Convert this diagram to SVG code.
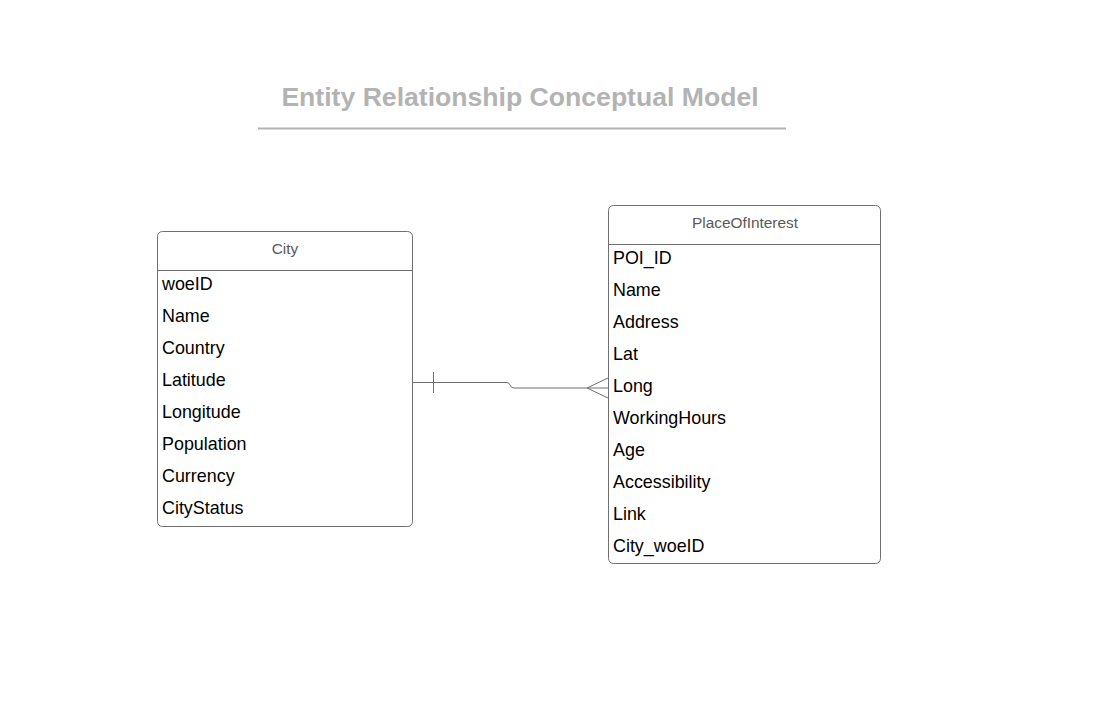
<svg xmlns="http://www.w3.org/2000/svg" width="1107" height="726" viewBox="0 0 1107 726">
<style>
.box{fill:#fff;stroke:#6f6f6f;stroke-width:1}
.sep{stroke:#6f6f6f;stroke-width:1}
.hdr{font-family:"Liberation Sans",Arial,sans-serif;font-size:15.4px;fill:#595959;text-anchor:middle}
.fld{font-family:"Liberation Sans",Arial,sans-serif;font-size:17.9px;fill:#000}
.title{font-family:"Liberation Sans",Arial,sans-serif;font-size:26.6px;font-weight:bold;fill:#b3b3b3;text-anchor:middle}
.conn{fill:none;stroke:#6f6f6f;stroke-width:1}
</style>
<rect width="1107" height="726" fill="#fff"/>
<g id="title">
<text class="title" x="520" y="106">Entity Relationship Conceptual Model</text>
<line x1="258" y1="128.5" x2="786" y2="128.5" stroke="#b3b3b3" stroke-width="2"/>
</g>
<g id="city">
<rect class="box" x="157.5" y="231.5" width="255" height="295" rx="5"/>
<line class="sep" x1="157.5" y1="270.5" x2="412.5" y2="270.5"/>
<text class="hdr" x="285" y="254">City</text>
<text class="fld" x="162" y="290">woeID</text>
<text class="fld" x="162" y="322">Name</text>
<text class="fld" x="162" y="354">Country</text>
<text class="fld" x="162" y="386">Latitude</text>
<text class="fld" x="162" y="418">Longitude</text>
<text class="fld" x="162" y="450">Population</text>
<text class="fld" x="162" y="482">Currency</text>
<text class="fld" x="162" y="514">CityStatus</text>
</g>
<g id="poi">
<rect class="box" x="608.5" y="205.5" width="272" height="358" rx="5"/>
<line class="sep" x1="608.5" y1="244.5" x2="880.5" y2="244.5"/>
<text class="hdr" x="745" y="228">PlaceOfInterest</text>
<text class="fld" x="613" y="264">POI_ID</text>
<text class="fld" x="613" y="296">Name</text>
<text class="fld" x="613" y="328">Address</text>
<text class="fld" x="613" y="360">Lat</text>
<text class="fld" x="613" y="392">Long</text>
<text class="fld" x="613" y="424">WorkingHours</text>
<text class="fld" x="613" y="456">Age</text>
<text class="fld" x="613" y="488">Accessibility</text>
<text class="fld" x="613" y="520">Link</text>
<text class="fld" x="613" y="552">City_woeID</text>
</g>
<g id="connectors">
<path class="conn" d="M413 382.5 H507 Q509 382.5 510 385 Q511 388 514 388 H608"/>
<line class="conn" x1="433.5" y1="372" x2="433.5" y2="393"/>
<path class="conn" d="M608 378 L587 388 L608 398"/>
</g>
</svg>
